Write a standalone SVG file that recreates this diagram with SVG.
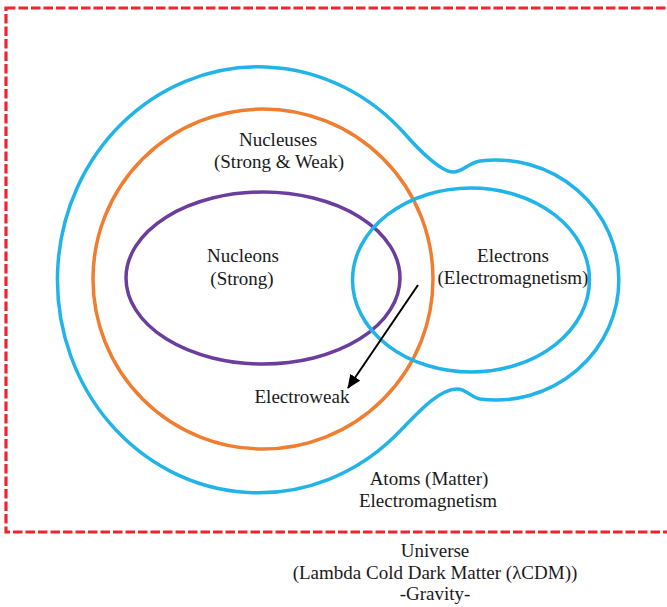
<svg xmlns="http://www.w3.org/2000/svg" width="667" height="607" viewBox="0 0 667 607">
<style>
.t{font-family:"Liberation Serif","Times New Roman",serif;font-size:19px;fill:#1a1a1a;text-anchor:middle}
.blue{fill:none;stroke:#22b3e8;stroke-width:3.5}
.orange{fill:none;stroke:#f07e30;stroke-width:3.5}
.purple{fill:none;stroke:#6b3d9d;stroke-width:3.5}
</style>
<defs>
<marker id="ah" markerUnits="userSpaceOnUse" markerWidth="14" markerHeight="12" refX="13" refY="6" orient="auto">
<path d="M0,0 L14,6 L0,12 Z" fill="#000"/>
</marker>
</defs>
<rect width="667" height="607" fill="#fff"/>
<g id="universe">
<rect x="6" y="8" width="690" height="524" fill="none" stroke="#ee2431" stroke-width="3.2" stroke-dasharray="9.5 3"/>
<text class="t" x="435" y="557">Universe</text>
<text class="t" x="435" y="579">(Lambda Cold Dark Matter (λCDM))</text>
<text class="t" x="435" y="600">-Gravity-</text>
</g>
<g id="atoms">
<path class="blue" d="M405,134 A201,213 0 1 0 393,438 C411,421 436,389 457,389 C467,389 470,397 480,399 A123,120 0 1 0 480,161 C468,163 463,172 453,172 C441,172 418,149 405,134 Z"/>
<text class="t" x="429" y="485">Atoms (Matter)</text>
<text class="t" x="428" y="507">Electromagnetism</text>
</g>
<g id="nucleuses">
<circle class="orange" cx="263" cy="279" r="170"/>
<text class="t" x="278" y="146">Nucleuses</text>
<text class="t" x="279" y="168">(Strong &amp; Weak)</text>
</g>
<g id="nucleons">
<ellipse class="purple" cx="263" cy="278" rx="137" ry="86"/>
<text class="t" x="243" y="262">Nucleons</text>
<text class="t" x="242" y="285">(Strong)</text>
</g>
<g id="electrons">
<ellipse class="blue" cx="471" cy="280" rx="118.5" ry="92"/>
<text class="t" x="513" y="262">Electrons</text>
<text class="t" x="513" y="284">(Electromagnetism)</text>
</g>
<g id="electroweak">
<text class="t" x="302" y="403">Electroweak</text>
</g>
<g id="connectors">
<line x1="418" y1="285" x2="348" y2="388" stroke="#000" stroke-width="2" marker-end="url(#ah)"/>
</g>
</svg>
